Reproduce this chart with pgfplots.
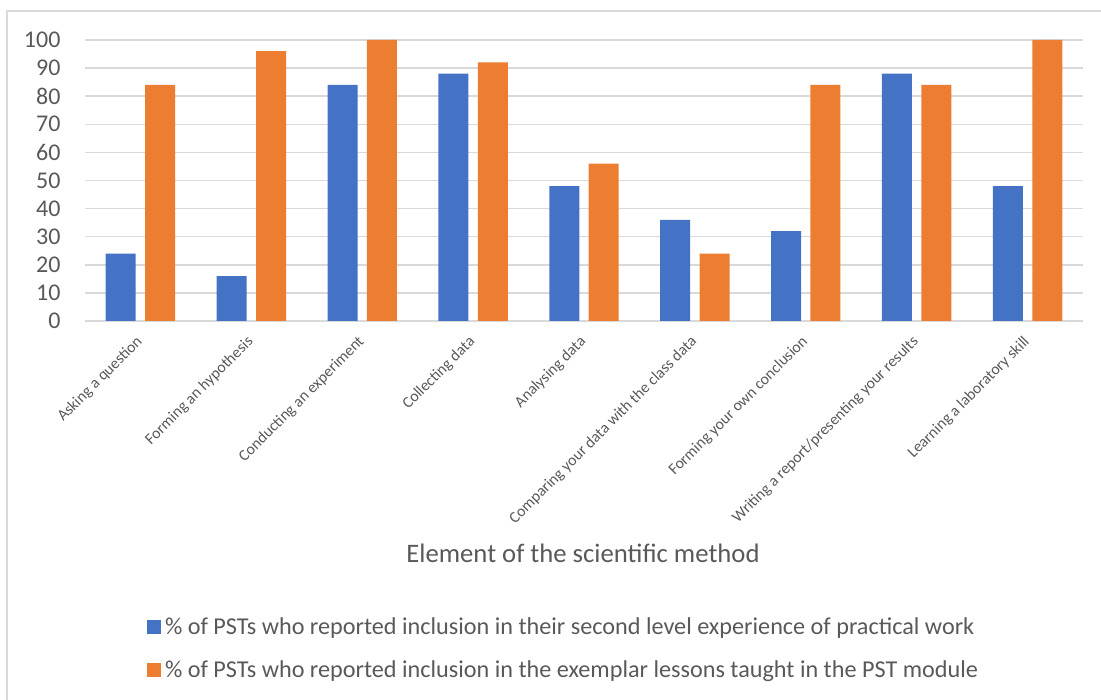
\documentclass[border=0pt]{standalone}
\usepackage{fontspec}
\setmainfont{Carlito}
\usepackage{pgfplots}
\pgfplotsset{compat=1.18}
\definecolor{cblue}{HTML}{4472C4}
\definecolor{corange}{HTML}{ED7D31}
\definecolor{cgrid}{HTML}{D9D9D9}
\definecolor{ctext}{HTML}{595959}
\begin{document}
\begin{tikzpicture}
\path[use as bounding box] (0,0) rectangle (1101pt,700pt);
\draw[cgrid, line width=1.5pt] (7pt,0) -- (7pt,689pt) -- (1101pt,689pt);
\begin{axis}[
  at={(85pt,379pt)}, anchor=south west,
  scale only axis, width=998pt, height=281pt,
  ybar, bar width=30pt,
  xmin=-0.5, xmax=8.5, ymin=0, ymax=100,
  ytick={0,10,...,100},
  xtick=data,
  xticklabels={Asking a question, Forming an hypothesis, Conducting an experiment, Collecting data, Analysing data, Comparing your data with the class data, Forming your own conclusion, Writing a report/presenting your results, Learning a laboratory skill},
  axis line style={draw=none},
  major tick length=0pt,
  ymajorgrids, grid style={cgrid, line width=1.5pt},
  /pgf/number format/assume math mode=true,
  yticklabel style={font=\fontsize{24}{28}\selectfont, text=ctext, xshift=-21pt},
  xticklabel style={font=\fontsize{15.8}{18}\selectfont, text=ctext, xshift=2pt, yshift=-16pt, rotate=45, anchor=east},
  xlabel={Element of the scientific method},
  xlabel style={at={(rel axis cs:0.499,-0.826)}, anchor=center, font=\fontsize{26.7}{30}\selectfont, text=ctext},
  legend style={at={(rel axis cs:0.4795,-1.1655)}, anchor=center, draw=none, fill=none,
    font=\fontsize{24.2}{28}\selectfont, text=ctext, row sep=21pt,
    /tikz/every odd column/.append style={column sep=2pt}},
  legend cell align=left,
  legend columns=1,
]
\addplot[fill=cblue, draw=none, bar shift=-19.7pt,
  legend image code/.code={\fill[cblue] (0pt,-7pt) rectangle (14pt,7pt);}]
  coordinates {(0,24) (1,16) (2,84) (3,88) (4,48) (5,36) (6,32) (7,88) (8,48)};
\addplot[fill=corange, draw=none, bar shift=19.7pt,
  legend image code/.code={\fill[corange] (0pt,-7pt) rectangle (14pt,7pt);}]
  coordinates {(0,84) (1,96) (2,100) (3,92) (4,56) (5,24) (6,84) (7,84) (8,100)};
\legend{\% of PSTs who reported inclusion in their second level experience of practical work,
        \% of PSTs who reported inclusion in the exemplar lessons taught in the PST module}
\end{axis}
\end{tikzpicture}
\end{document}
